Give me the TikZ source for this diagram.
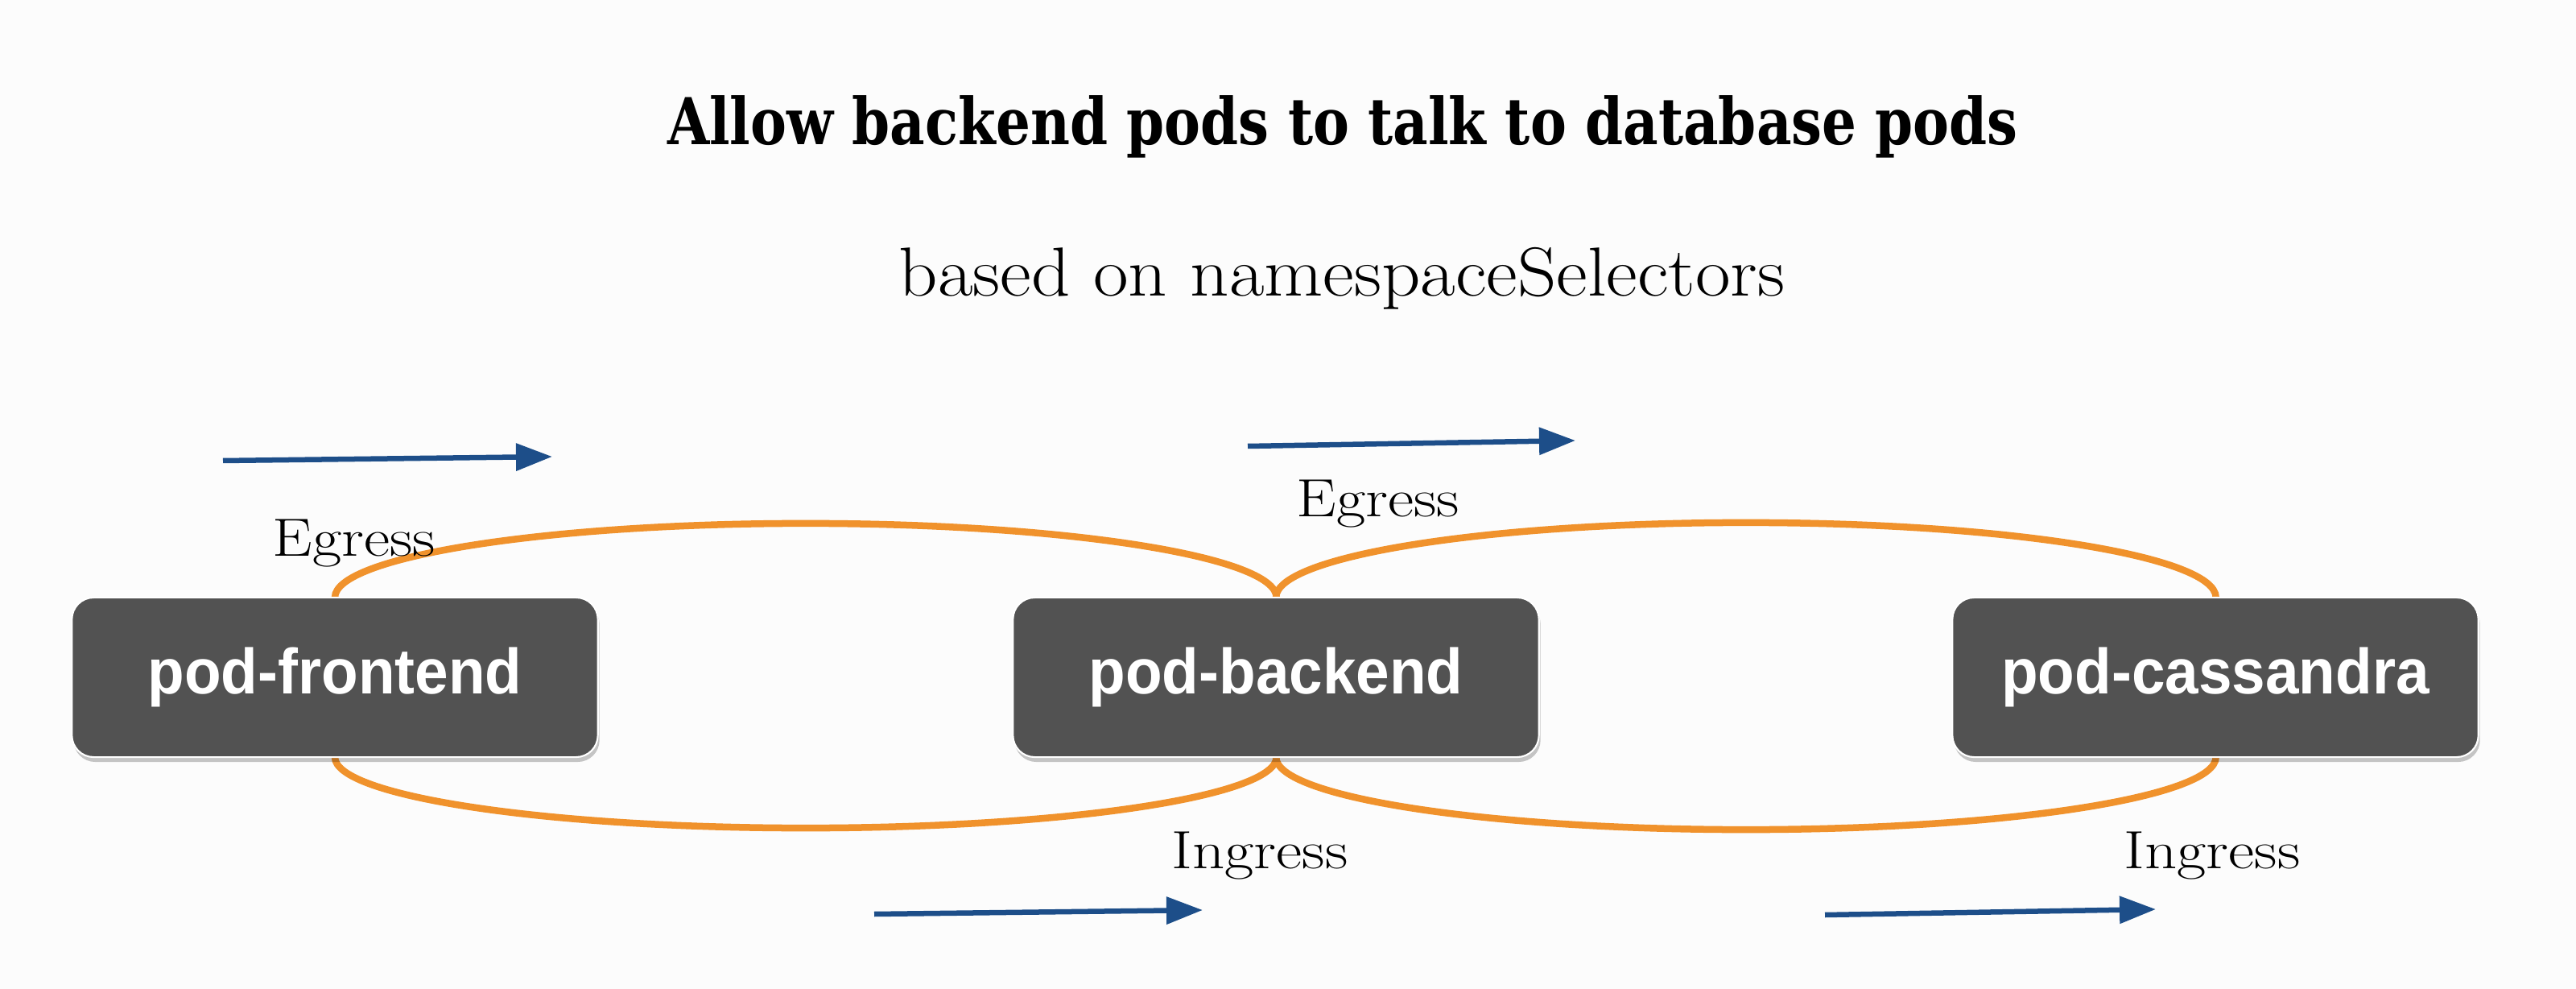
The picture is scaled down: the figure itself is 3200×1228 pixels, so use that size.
\documentclass[tikz,border=0pt]{standalone}
\usepackage{fontspec}
\usetikzlibrary{arrows.meta,shadows}
\newfontfamily\podfont[FakeStretch=0.94]{Liberation Sans}
\newfontfamily\titlefont[FakeStretch=0.84]{DejaVu Serif}
\newfontfamily\labelfont[FakeStretch=1.18]{Latin Modern Roman}
\newfontfamily\subfont[FakeStretch=1.1]{Latin Modern Roman}
\definecolor{bgc}{HTML}{FCFCFC}
\definecolor{podfill}{HTML}{525252}
\definecolor{orangec}{HTML}{F0922C}
\definecolor{bluec}{HTML}{1D4E89}
\tikzset{
  podbox/.style={rectangle, rounded corners=0.27cm, fill=podfill, draw=white, line width=0.6pt,
    minimum width=6.53cm, minimum height=1.98cm, text=white,
    font=\podfont\bfseries\fontsize{22.6pt}{26pt}\selectfont,
    drop shadow={shadow xshift=0.02cm, shadow yshift=-0.06cm, opacity=0.22, fill=black}},
  loopline/.style={draw=orangec, line width=0.085cm},
  flowarrow/.style={draw=bluec, line width=0.065cm, -{Triangle[length=0.45cm,width=0.33cm]}},
  flowlabel/.style={anchor=base, inner sep=0pt, font=\labelfont\fontsize{19pt}{23pt}\selectfont},
}
\begin{document}
\begin{tikzpicture}[x=0.01cm, y=-0.01cm]
\fill[bgc] (0,0) rectangle (3200,1228);
\useasboundingbox (0,0) rectangle (3200,1228);

% title and subtitle
\node[anchor=base, inner sep=0pt, font=\titlefont\bfseries\fontsize{22.8pt}{27pt}\selectfont] (title) at (1668,180) {Allow backend pods to talk to database pods};
\node[anchor=base, inner sep=0pt, font=\subfont\fontsize{24.5pt}{29pt}\selectfont] (subtitle) at (1667,368) {based on namespaceSelectors};

% pod positions
\coordinate (pf) at (416,841);
\coordinate (pb) at (1585,841);
\coordinate (pc) at (2752,841);

% loops (drawn below the boxes)
\path (pf) ++(0,0.99cm) coordinate (fN);
\path (pb) ++(0,0.99cm) coordinate (bN);
\path (pf) ++(0,-0.99cm) coordinate (fS);
\path (pb) ++(0,-0.99cm) coordinate (bS);
\draw[loopline] (fN) arc[start angle=180, end angle=0, x radius=5.845cm, y radius=0.92cm];
\draw[loopline] (bN) arc[start angle=180, end angle=0, x radius=5.835cm, y radius=0.93cm];
\draw[loopline] (fS) arc[start angle=180, end angle=360, x radius=5.845cm, y radius=0.88cm];
\draw[loopline] (bS) arc[start angle=180, end angle=360, x radius=5.835cm, y radius=0.90cm];

% pods
\node[podbox] (front) at (pf) {pod-frontend};
\node[podbox] (back) at (pb) {pod-backend};
\node[podbox] (cass) at (pc) {pod-cassandra};

% labels
\node[flowlabel] (eg1) at (440,691) {Egress};
\node[flowlabel] (eg2) at (1712,642) {Egress};
\node[flowlabel] (in1) at (1565,1078) {Ingress};
\node[flowlabel] (in2) at (2748,1078) {Ingress};

% arrows
\coordinate (a1s) at (277,572);  \coordinate (a1e) at (686,567);
\coordinate (a2s) at (1550,554); \coordinate (a2e) at (1957,547);
\coordinate (a3s) at (1086,1135); \coordinate (a3e) at (1494,1130);
\coordinate (a4s) at (2267,1136); \coordinate (a4e) at (2678,1129);
\draw[flowarrow] (a1s) -- (a1e);
\draw[flowarrow] (a2s) -- (a2e);
\draw[flowarrow] (a3s) -- (a3e);
\draw[flowarrow] (a4s) -- (a4e);
\end{tikzpicture}
\end{document}
